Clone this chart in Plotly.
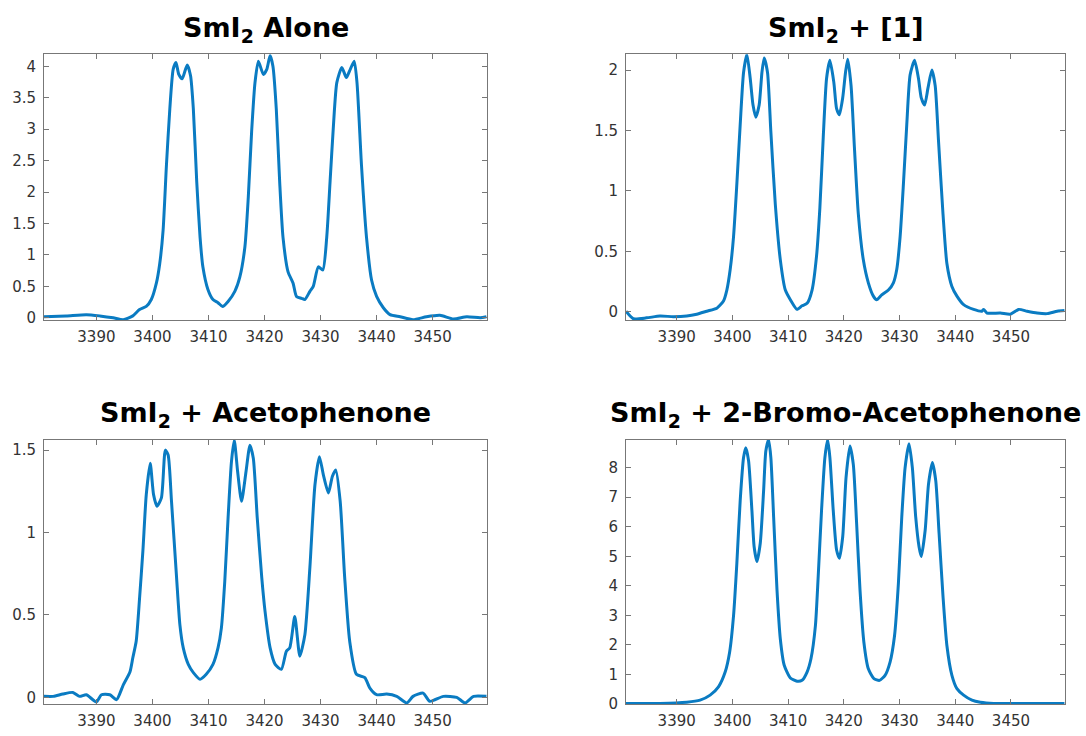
import plotly.graph_objects as go

# ---------------- data ----------------
alone_x = [3380.65, 3384.6, 3388.2, 3390.6, 3393.0, 3394.8, 3396.5, 3397.7, 3398.9, 3399.8,
           3400.7, 3401.3, 3401.9, 3402.5, 3403.1, 3403.7, 3404.2, 3404.7, 3405.3, 3406.2,
           3406.8, 3407.3, 3407.9, 3408.5, 3409.0, 3409.9, 3410.8, 3411.7, 3412.5, 3413.5,
           3414.7, 3415.6, 3416.5, 3417.1, 3417.7, 3418.3, 3418.9, 3419.8, 3420.4, 3421.0,
           3421.5, 3422.1, 3422.7, 3423.3, 3424.2, 3425.1, 3425.7, 3426.6, 3427.2, 3428.1,
           3428.7, 3429.6, 3430.4, 3431.1, 3431.7, 3432.3, 3432.9, 3433.8, 3434.6, 3435.2,
           3436.0, 3436.5, 3437.3, 3438.2, 3439.1, 3440.0, 3441.2, 3442.4, 3444.2, 3446.5,
           3448.9, 3451.3, 3453.7, 3456.1, 3458.5, 3459.6]
alone_y = [0.016, 0.03, 0.05, 0.03, 0.0, -0.03, 0.03, 0.13, 0.18, 0.29,
           0.55, 0.86, 1.39, 2.43, 3.32, 3.95, 4.06, 3.87, 3.80, 4.02,
           3.85, 3.32, 2.17, 1.28, 0.81, 0.45, 0.29, 0.24, 0.18, 0.26,
           0.42, 0.65, 1.13, 1.91, 2.96, 3.74, 4.08, 3.87, 3.95, 4.17,
           4.0, 3.32, 2.17, 1.28, 0.73, 0.55, 0.34, 0.31, 0.29, 0.42,
           0.50, 0.81, 0.76, 1.28, 2.17, 3.06, 3.74, 3.98, 3.82, 3.93,
           4.08, 3.74, 2.43, 1.28, 0.60, 0.34, 0.16, 0.05, 0.016, -0.03,
           0.016, 0.04, -0.02, 0.016, 0.0, 0.016]

c1_x = [3380.9, 3382.2, 3384.6, 3387.0, 3389.4, 3391.8, 3393.6, 3395.4, 3397.2, 3398.4,
        3399.0, 3399.6, 3400.2, 3400.8, 3401.4, 3402.0, 3402.6, 3403.2, 3403.7, 3404.2,
        3404.8, 3405.3, 3405.7, 3406.3, 3406.9, 3407.7, 3408.6, 3409.5, 3410.4, 3411.6,
        3412.5, 3413.4, 3414.3, 3415.1, 3415.7, 3416.3, 3416.9, 3417.5, 3418.2, 3418.7,
        3419.2, 3419.8, 3420.3, 3420.7, 3421.3, 3421.9, 3422.6, 3423.5, 3424.4, 3425.3,
        3425.9, 3426.8, 3428.0, 3428.9, 3429.5, 3430.1, 3430.7, 3431.3, 3431.9, 3432.7,
        3433.4, 3433.9, 3434.5, 3435.1, 3435.8, 3436.4, 3437.0, 3437.8, 3438.5, 3439.4,
        3440.3, 3441.5, 3443.3, 3444.8, 3445.1, 3445.7, 3448.1, 3449.9, 3451.4, 3452.9,
        3454.7, 3456.5, 3458.3, 3459.6]
c1_y = [0.005, -0.057, -0.05, -0.035, -0.04, -0.035, -0.02, 0.005, 0.03, 0.09,
        0.18, 0.35, 0.62, 1.06, 1.55, 1.98, 2.13, 1.93, 1.71, 1.61,
        1.71, 1.98, 2.10, 1.98, 1.49, 0.89, 0.43, 0.18, 0.10, 0.02,
        0.05, 0.07, 0.18, 0.46, 0.86, 1.44, 1.93, 2.08, 1.90, 1.68,
        1.63, 1.77, 1.98, 2.09, 1.87, 1.36, 0.81, 0.43, 0.24, 0.13,
        0.10, 0.14, 0.18, 0.24, 0.35, 0.62, 1.06, 1.55, 1.96, 2.08,
        1.93, 1.77, 1.71, 1.85, 2.00, 1.87, 1.41, 0.81, 0.40, 0.21,
        0.13, 0.06, 0.02, 0.005, 0.02, -0.01, -0.01, -0.02, 0.02, 0.005,
        -0.01, -0.015, 0.005, 0.01]

aceto_x = [3380.65, 3382.3, 3384.0, 3385.8, 3387.0, 3388.2, 3390.0, 3390.9, 3392.4, 3393.6,
           3394.8, 3396.0, 3396.5, 3397.1, 3397.7, 3398.3, 3398.9, 3399.6, 3400.2, 3400.8,
           3401.6, 3402.3, 3402.8, 3403.4, 3404.3, 3404.9, 3405.5, 3406.4, 3407.3, 3408.5,
           3409.6, 3410.8, 3411.7, 3412.3, 3412.9, 3413.5, 3414.1, 3414.6, 3415.2, 3415.9,
           3416.7, 3417.4, 3418.0, 3418.7, 3419.5, 3420.1, 3421.0, 3421.9, 3423.0, 3423.9,
           3424.5, 3425.4, 3426.3, 3427.2, 3428.1, 3429.0, 3429.8, 3430.5, 3431.4, 3432.1,
           3432.7, 3433.5, 3434.3, 3435.2, 3436.4, 3437.9, 3438.8, 3440.0, 3441.8, 3443.6,
           3445.4, 3446.5, 3448.3, 3449.5, 3451.9, 3454.3, 3455.8, 3457.3, 3459.6]
aceto_y = [0.006, 0.006, 0.02, 0.03, 0.006, 0.016, -0.028, 0.016, 0.016, -0.014,
           0.076, 0.156, 0.24, 0.34, 0.60, 0.89, 1.23, 1.42, 1.23, 1.16,
           1.21, 1.50, 1.47, 1.19, 0.73, 0.44, 0.30, 0.20, 0.15, 0.11,
           0.14, 0.20, 0.30, 0.42, 0.70, 1.09, 1.43, 1.56, 1.37, 1.19,
           1.37, 1.53, 1.45, 1.09, 0.73, 0.52, 0.30, 0.20, 0.17, 0.28,
           0.30, 0.49, 0.25, 0.38, 0.79, 1.29, 1.46, 1.35, 1.24, 1.34,
           1.38, 1.19, 0.73, 0.34, 0.14, 0.12, 0.056, 0.016, 0.02, 0.006,
           -0.034, 0.006, 0.026, -0.024, 0.006, 0.0, -0.034, 0.006, 0.006]

bromo_x = [3380.9, 3387.0, 3391.8, 3394.2, 3396.0, 3397.5, 3398.7, 3399.5, 3400.2, 3400.8,
           3401.4, 3402.0, 3402.4, 3402.9, 3403.5, 3403.9, 3404.4, 3405.0, 3405.6, 3406.0,
           3406.5, 3406.9, 3407.4, 3408.0, 3408.6, 3409.3, 3410.4, 3411.6, 3412.5, 3413.4,
           3414.1, 3414.9, 3415.4, 3416.0, 3416.6, 3417.1, 3417.5, 3418.1, 3418.7, 3419.2,
           3419.8, 3420.4, 3421.1, 3421.7, 3422.3, 3422.9, 3423.6, 3424.4, 3425.4, 3426.4,
           3427.4, 3428.3, 3429.1, 3429.8, 3430.4, 3431.0, 3431.7, 3432.3, 3432.9, 3433.5,
           3433.9, 3434.6, 3435.2, 3435.9, 3436.5, 3437.1, 3437.8, 3438.5, 3439.4, 3440.3,
           3441.5, 3443.0, 3444.5, 3446.9, 3452.9, 3459.6]
bromo_y = [0.02, 0.02, 0.06, 0.13, 0.30, 0.58, 1.08, 1.75, 2.98, 4.77,
           6.89, 8.34, 8.67, 8.23, 6.55, 5.32, 4.82, 5.44, 7.22, 8.56,
           8.95, 8.34, 6.33, 3.87, 2.20, 1.31, 0.88, 0.77, 0.80, 1.08,
           1.53, 2.65, 4.32, 6.55, 8.34, 8.95, 8.34, 6.55, 5.21, 4.93,
           5.66, 7.67, 8.73, 8.11, 6.10, 3.87, 2.09, 1.19, 0.86, 0.80,
           0.97, 1.42, 2.31, 4.10, 6.33, 8.00, 8.81, 8.00, 6.33, 5.32,
           4.99, 5.88, 7.44, 8.17, 7.56, 5.77, 3.65, 1.98, 0.97, 0.52,
           0.30, 0.13, 0.06, 0.02, 0.02, 0.02]

titles = ["SmI<sub>2</sub> Alone", "SmI<sub>2</sub> + [1]",
          "SmI<sub>2</sub> + Acetophenone", "SmI<sub>2</sub> + 2-Bromo-Acetophenone"]
x_ticks = [3390, 3400, 3410, 3420, 3430, 3440, 3450]
y_ticks = [[0, 0.5, 1, 1.5, 2, 2.5, 3, 3.5, 4],
           [0, 0.5, 1, 1.5, 2],
           [0, 0.5, 1, 1.5],
           [0, 1, 2, 3, 4, 5, 6, 7, 8]]
x_ranges = [[3380.65, 3459.7], [3380.9, 3459.7], [3380.65, 3459.7], [3380.9, 3459.7]]
y_ranges = [[-0.036, 4.19], [-0.068, 2.13], [-0.042, 1.564], [-0.01, 8.95]]

series = [(alone_x, alone_y), (c1_x, c1_y), (aceto_x, aceto_y), (bromo_x, bromo_y)]

# ---------------- layout (pixel geometry) ----------------
W, H = 1086, 736
px_x = [(44, 487), (626, 1065), (44, 487), (626, 1065)]
px_y = [(55, 324), (55, 324), (445, 713), (445, 713)]
title_y = [30, 30, 420, 420]

fig = go.Figure()
layout = dict(width=W, height=H, margin=dict(l=0, r=0, t=0, b=0),
              paper_bgcolor="white", plot_bgcolor="white", showlegend=False,
              annotations=[])
axis_common = dict(showline=True, mirror="ticks", linecolor="#777777", linewidth=1,
                   ticks="inside", ticklen=5, tickcolor="#777777", showgrid=False,
                   zeroline=False,
                   tickfont=dict(family="DejaVu Sans", size=15, color="#333333"))

for i, (xs, ys) in enumerate(series):
    n = "" if i == 0 else str(i + 1)
    fig.add_trace(go.Scatter(x=xs, y=ys, mode="lines",
                             line=dict(color="#0A7BC2", width=3, shape="spline", smoothing=0.6),
                             xaxis="x" + n, yaxis="y" + n, hoverinfo="skip"))
    x0, x1 = px_x[i]
    y0, y1 = px_y[i]
    layout["xaxis" + n] = dict(axis_common, domain=[x0 / W, x1 / W], anchor="y" + n,
                               range=x_ranges[i], tickvals=x_ticks,
                               ticktext=[str(t) for t in x_ticks], ticklabelstandoff=3)
    layout["yaxis" + n] = dict(axis_common, domain=[1 - y1 / H, 1 - y0 / H], anchor="x" + n,
                               range=y_ranges[i], tickvals=y_ticks[i],
                               ticktext=[("%g" % t) for t in y_ticks[i]], ticklabelstandoff=4)
    layout["annotations"].append(dict(
        text=titles[i], xref="paper", yref="paper", x=(x0 + x1) / 2 / W,
        y=1 - title_y[i] / H, xanchor="center", yanchor="middle", showarrow=False,
        font=dict(family="DejaVu Sans", size=27, color="black", weight="bold")))

fig.update_layout(**layout)
fig.write_html("out.html")
